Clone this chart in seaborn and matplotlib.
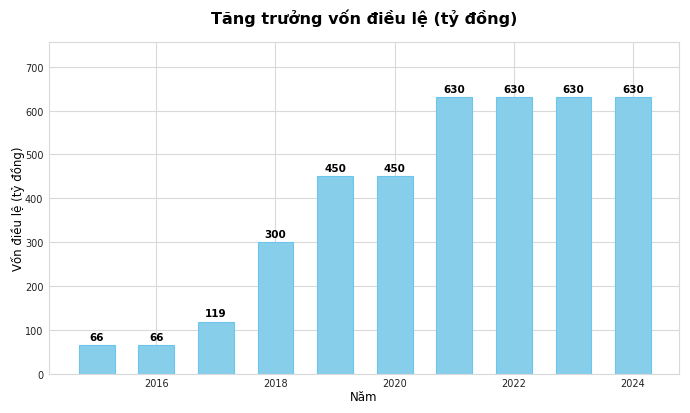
import seaborn as sns
import matplotlib.pyplot as plt

years = [2015, 2016, 2017, 2018, 2019, 2020, 2021, 2022, 2023, 2024]
von = [66, 66, 119, 300, 450, 450, 630, 630, 630, 630]

sns.set_style('whitegrid', {'grid.color': '#d9d9d9', 'axes.edgecolor': '#d9d9d9',
                            'text.color': 'black', 'axes.labelcolor': 'black',
                            'xtick.color': '#222222', 'ytick.color': '#222222'})
plt.rcParams['font.family'] = ['DejaVu Sans']

fig = plt.figure(figsize=(6.9, 4.14), dpi=100)
ax = fig.add_axes([0.071, 0.094, 0.913, 0.802])

sns.barplot(x=years, y=von, native_scale=True, width=0.6, color='skyblue',
            saturation=1, edgecolor='#6cc6ec', linewidth=0.8, ax=ax)

for x, v in zip(years, von):
    ax.text(x, v + 8, str(v), ha='center', va='bottom', fontsize=7.5, fontweight='bold')

ax.set_xlim(2014.2, 2024.77)
ax.set_ylim(0, 756)
ax.set_xticks([2016, 2018, 2020, 2022, 2024])
ax.set_yticks(range(0, 701, 100))
ax.tick_params(labelsize=7, length=0)
ax.tick_params(axis='x', pad=3)
ax.tick_params(axis='y', pad=4)
ax.set_xlabel('Năm', fontsize=8.5, labelpad=1)
ax.set_ylabel('Vốn điều lệ (tỷ đồng)', fontsize=8.5, labelpad=0)
ax.set_title('Tăng trưởng vốn điều lệ (tỷ đồng)', fontsize=11.5, fontweight='bold', pad=14)

fig.savefig('out.png', dpi=100)
